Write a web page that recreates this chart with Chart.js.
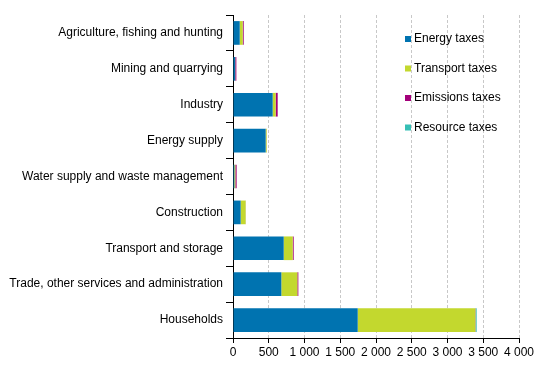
<!DOCTYPE html>
<html>
<head>
<meta charset="utf-8">
<script src="https://cdn.jsdelivr.net/npm/chart.js@4"></script>
<style>
  html, body { margin: 0; padding: 0; background: #fff; }
  #wrap { width: 549px; height: 368px; }
</style>
</head>
<body>
<div id="wrap"><canvas id="myChart" width="549" height="368"></canvas></div>
<script>
var categories = [
  'Agriculture, fishing and hunting',
  'Mining and quarrying',
  'Industry',
  'Energy supply',
  'Water supply and waste management',
  'Construction',
  'Transport and storage',
  'Trade, other services and administration',
  'Households'
];
var energyTaxes    = [94, 30, 555, 457, 19, 107, 709, 676, 1744];
var transportTaxes = [42, 2, 42, 14, 14, 70, 126, 224, 1646];
var emissionsTaxes = [14, 15, 28, 2, 18, 2, 14, 14, 4];
var resourceTaxes  = [0, 0, 0, 0, 0, 0, 0, 0, 14];
var seriesNames = ['Energy taxes', 'Transport taxes', 'Emissions taxes', 'Resource taxes'];
var seriesColors = ['#0073b0', '#c3d82e', '#a3007a', '#36bfb5'];

Chart.defaults.font.family = 'Arial, "Liberation Sans", sans-serif';
Chart.defaults.font.size = 12;
Chart.defaults.color = '#000';

// legend drawn inside the plot, top right
var boxLegend = {
  id: 'boxLegend',
  afterDraw: function (chart) {
    var ctx = chart.ctx;
    ctx.save();
    ctx.font = '12px Arial, "Liberation Sans", sans-serif';
    ctx.textBaseline = 'middle';
    chart.data.datasets.forEach(function (ds, i) {
      var y = 39 + i * 29.5;
      ctx.fillStyle = ds.backgroundColor;
      ctx.fillRect(405, y - 3, 6, 6);
      ctx.fillStyle = '#000';
      ctx.fillText(ds.label, 414, y);
    });
    ctx.restore();
  }
};

var sets = [energyTaxes, transportTaxes, emissionsTaxes, resourceTaxes].map(function (d, i) {
  return {
    label: seriesNames[i],
    data: d,
    backgroundColor: seriesColors[i],
    barPercentage: 0.66,
    categoryPercentage: 1
  };
});

new Chart('myChart', {
  type: 'bar',
  data: { labels: categories, datasets: sets },
  plugins: [boxLegend],
  options: {
    indexAxis: 'y',
    responsive: false,
    animation: false,
    layout: { padding: { top: 15, right: 30, left: 0, bottom: 0 } },
    plugins: { legend: { display: false }, tooltip: { enabled: false } },
    scales: {
      x: {
        stacked: true,
        min: 0,
        max: 4000,
        ticks: {
          stepSize: 500,
          padding: 2,
          autoSkip: false,
          maxRotation: 0,
          minRotation: 0,
          callback: function (v) { return String(v).replace(/\B(?=(\d{3})+(?!\d))/g, ' '); }
        },
        grid: { color: '#c8c8c8', tickColor: '#000', tickLength: 5, lineWidth: 1 },
        border: { color: '#000', dash: [3, 2] },
        afterFit: function (s) { s.height = 30; }
      },
      y: {
        stacked: true,
        ticks: { padding: 3 },
        grid: { drawOnChartArea: false, tickColor: '#000', tickLength: 7 },
        border: { color: '#000' },
        afterFit: function (s) { s.width = 233; }
      }
    }
  }
});
</script>
</body>
</html>
